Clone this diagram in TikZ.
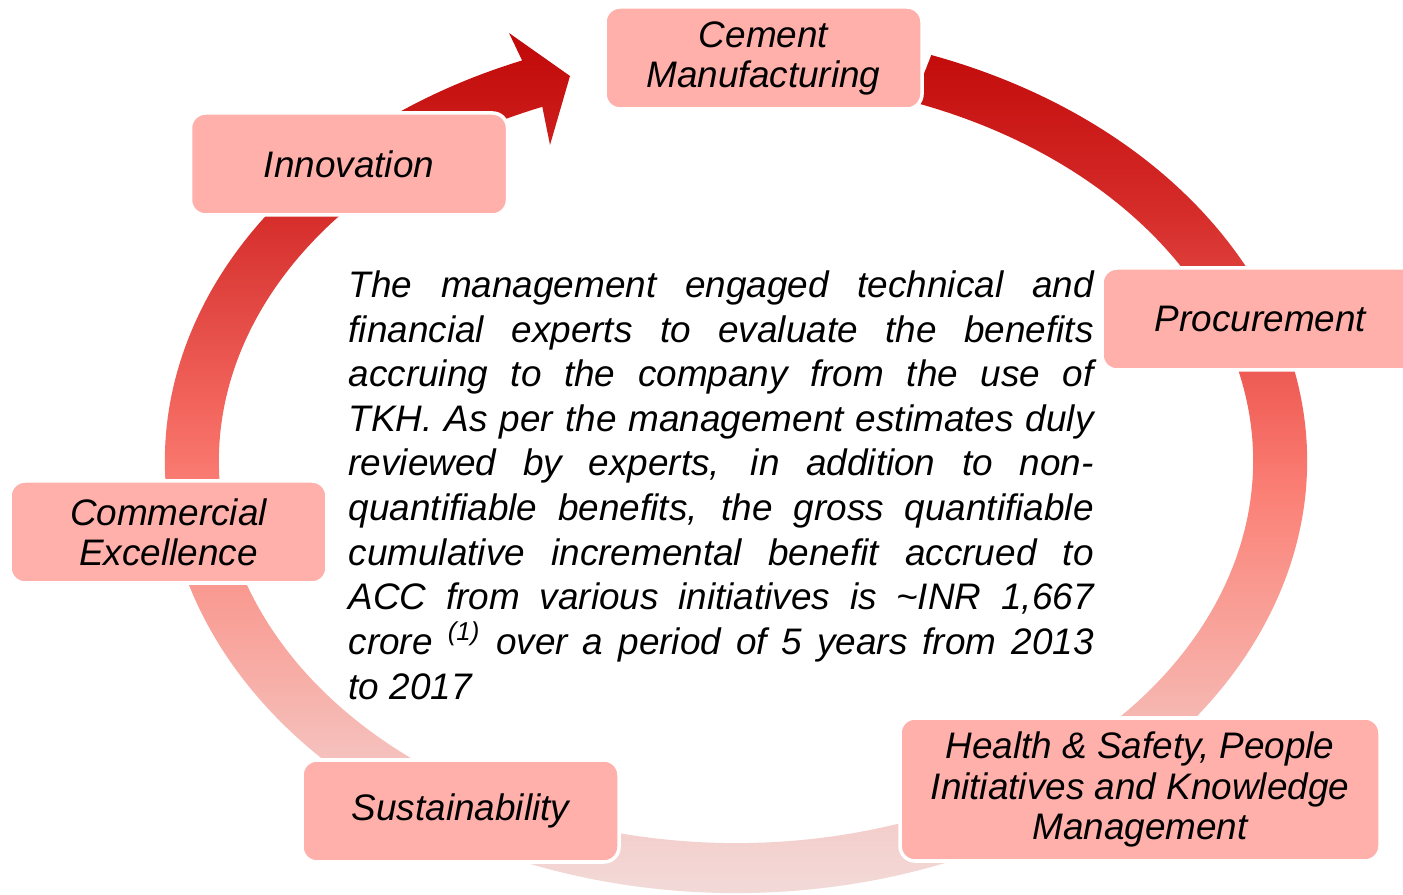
\documentclass[tikz,border=0pt]{standalone}
\usepackage{fontspec}
\setmainfont{Liberation Sans}
\usetikzlibrary{calc}
\definecolor{stagefill}{RGB}{255,176,170}
\pgfdeclareverticalshading{ringshade}{100bp}{
  rgb(0bp)=(0.941,0.925,0.925); rgb(25bp)=(0.941,0.925,0.925);
  rgb(28bp)=(0.949,0.855,0.847); rgb(35bp)=(0.961,0.765,0.753);
  rgb(39.6bp)=(0.969,0.686,0.659); rgb(44.8bp)=(0.976,0.600,0.565);
  rgb(50bp)=(0.984,0.498,0.459); rgb(54.7bp)=(0.949,0.392,0.361);
  rgb(61.6bp)=(0.871,0.251,0.235); rgb(65.1bp)=(0.839,0.176,0.165);
  rgb(75bp)=(0.753,0.031,0.031); rgb(100bp)=(0.753,0.031,0.031)}
\tikzset{
  stage/.style={draw=white, line width=1pt, fill=stagefill, rounded corners=0.15cm,
    minimum width=3.17cm, minimum height=1.02cm, align=center, inner sep=0pt,
    font=\fontsize{10.5}{11.4}\selectfont\itshape},
  note/.style={text width=7.45cm, align=justify, inner sep=0pt,
    font=\fontsize{10.5}{12.7}\selectfont\itshape}
}

\begin{document}
\begin{tikzpicture}
    \newcommand*{\ringcx}{7.36}
    \newcommand*{\ringcy}{4.34}
    \newcommand*{\outerrx}{5.71}
    \newcommand*{\outerry}{4.32}
    \newcommand*{\innerrx}{5.17}
    \newcommand*{\innerry}{3.82}
    \useasboundingbox (0,0) rectangle (14.03,8.95);
    \clip (0,0) rectangle (14.03,8.95);
    % the cycle arrow
    \shade[shading=ringshade]
    ({\ringcx+\outerrx*cos(70)}, {\ringcy+\outerry*sin(70)})
    arc[start angle=70, end angle=-248, x radius=\outerrx, y radius=\outerry]
    -- (5.09,8.62) -- (5.70,8.19) -- (5.50,7.50)
    -- ({\ringcx+\innerrx*cos(112)}, {\ringcy+\innerry*sin(112)})
    arc[start angle=112, end angle=430, x radius=\innerrx, y radius=\innerry] -- cycle;
    % stages
    \node[stage] (cement) at (7.635,8.37) {Cement\\Manufacturing};
    \node[stage] (procure) at (12.605,5.76) {Procurement};
    \node[stage, minimum width=4.80cm, minimum height=1.43cm] (health) at (11.40,1.055) {Health \& Safety, People\\Initiatives and Knowledge\\Management};
    \node[stage] (sustain) at (4.605,0.84) {Sustainability};
    \node[stage] (commerc) at (1.685,3.63) {Commercial\\Excellence};
    \node[stage] (innov) at (3.49,7.31) {Innovation};
    % centre text
    \node[note, anchor=north west] (note) at (3.48,6.25) {The management engaged technical and\linebreak
      financial experts to evaluate the benefits\linebreak
      accruing to the company from the use of\linebreak
      TKH. As per the management estimates duly\linebreak
      reviewed by experts, in addition to non-\linebreak
      quantifiable benefits, the gross quantifiable\linebreak
      cumulative incremental benefit accrued to\linebreak
      ACC from various initiatives is \textasciitilde INR 1,667\linebreak
      crore \textsuperscript{(1)} over a period of 5 years from 2013\linebreak
      to 2017};
\end{tikzpicture}
\end{document}
